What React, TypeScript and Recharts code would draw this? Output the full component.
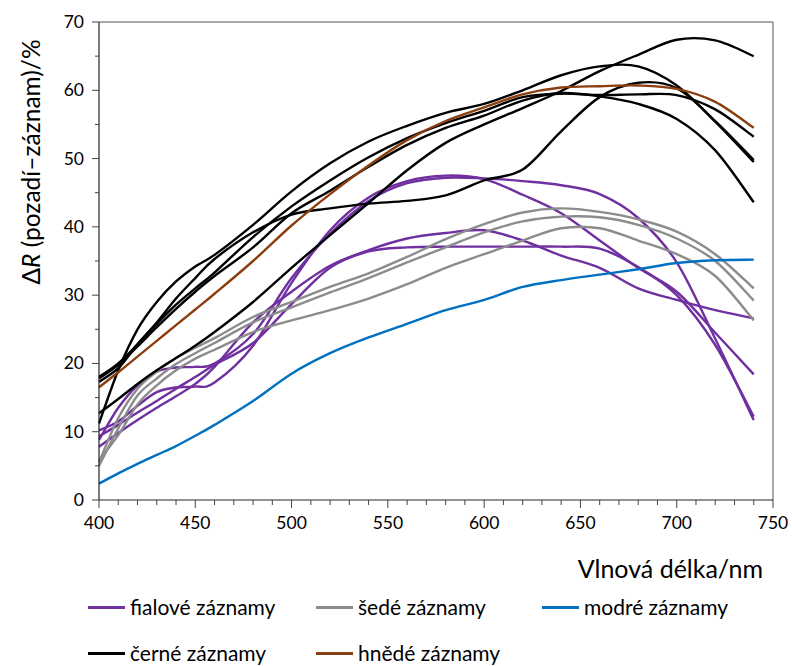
import { LineChart, Line, XAxis, YAxis, ReferenceLine } from "recharts";

const wavelengths = [400, 410, 420, 430, 440, 450, 460, 480, 500, 520, 540, 560, 580, 600, 620, 640, 660, 680, 700, 720, 740];

// fialové záznamy
const fialove1 = [10.2, 11.5, 13.8, 15.8, 16.5, 16.6, 17.2, 22.6, 31.8, 39.5, 44.3, 46.7, 47.5, 47, 44.7, 42, 38, 34, 30.5, 24.5, 18.4];
const fialove2 = [8.8, 13.5, 16.8, 18.8, 19.4, 19.5, 20, 24.3, 32.5, 39, 43.8, 46.4, 47.2, 47.1, 46.7, 46.1, 44.8, 41.3, 34.8, 23.6, 11.7];
const fialove3 = [7.8, 9.8, 11.7, 13.5, 15.2, 17, 19.5, 26, 30.5, 34.3, 36.6, 38.3, 39.1, 39.5, 38, 35.8, 34, 31, 29.3, 27.8, 26.6];
const fialove4 = [9.3, 11, 12.8, 14.5, 16.3, 18, 19.8, 23, 28.7, 34, 36.4, 37, 37.1, 37.1, 37.1, 37.1, 36.8, 34.1, 30, 22.7, 12.2];

// šedé záznamy
const sede1 = [5.5, 12, 16.3, 18.8, 20.8, 22.3, 23.7, 26.8, 29, 31.2, 33.2, 35.6, 38.2, 40.4, 42.1, 42.7, 42.2, 41.1, 39.3, 36, 31];
const sede2 = [5, 10.5, 15.3, 17.8, 19.9, 21.5, 23, 26, 28.2, 30.4, 32.5, 34.8, 37, 39.2, 40.8, 41.5, 41.4, 40.3, 38.3, 35, 29.2];
const sede3 = [5.8, 9.5, 14, 16.8, 19, 20.7, 22, 24.6, 26.3, 27.8, 29.5, 31.6, 34, 36, 38, 39.8, 39.8, 38, 36, 32.8, 26.3];

// modré záznamy
const modre1 = [2.4, 3.9, 5.3, 6.6, 7.9, 9.4, 11, 14.5, 18.5, 21.5, 23.8, 25.8, 27.8, 29.3, 31.2, 32.2, 33, 33.8, 34.7, 35.1, 35.2];

// černé záznamy
const cerne1 = [11.2, 19, 25, 29, 32, 34.2, 35.9, 40.3, 45.2, 49.3, 52.5, 54.8, 56.7, 58, 60, 62.2, 63.5, 63.5, 60.7, 55.4, 49.5];
const cerne2 = [18, 20, 22.8, 25.8, 28.6, 31, 33.3, 38.5, 43, 46.8, 50.2, 53, 55.2, 57, 59, 59.5, 59.3, 59.4, 59.3, 57.2, 53.2];
const cerne3 = [17.3, 19.3, 22.8, 26, 29.5, 32.5, 35.3, 39.2, 41.8, 42.7, 43.4, 43.8, 44.6, 46.8, 48.4, 54, 59, 61.1, 60.3, 55.5, 49.8];
const cerne4 = [12.7, 14.8, 17, 19, 20.8, 22.6, 24.6, 29, 34, 38.8, 43.5, 48.3, 52.3, 55, 57.4, 59.9, 62.8, 65.2, 67.4, 67.3, 65];
const cerne5 = [17.8, 19.8, 22.5, 25.3, 28, 30.5, 32.8, 37, 42, 45.3, 48.8, 52, 54.5, 56.3, 58.5, 59.6, 59.1, 58, 55.8, 51.2, 43.6];

// hnědé záznamy
const hnede1 = [16.5, 18.7, 21, 23.3, 25.6, 27.9, 30.2, 35, 40.2, 44.8, 49, 52.7, 55.5, 57.5, 59.4, 60.4, 60.6, 60.7, 60.2, 58.3, 54.5];

const PURPLE = "#7030a0";
const GRAY = "#8c8c8c";
const BLUE = "#0070c0";
const BLACK = "#000000";
const BROWN = "#8b3f10";

const series = [
  { key: "fialove1", values: fialove1, color: PURPLE },
  { key: "fialove2", values: fialove2, color: PURPLE },
  { key: "fialove3", values: fialove3, color: PURPLE },
  { key: "fialove4", values: fialove4, color: PURPLE },
  { key: "sede1", values: sede1, color: GRAY },
  { key: "sede2", values: sede2, color: GRAY },
  { key: "sede3", values: sede3, color: GRAY },
  { key: "modre1", values: modre1, color: BLUE },
  { key: "cerne1", values: cerne1, color: BLACK },
  { key: "cerne2", values: cerne2, color: BLACK },
  { key: "cerne3", values: cerne3, color: BLACK },
  { key: "cerne4", values: cerne4, color: BLACK },
  { key: "cerne5", values: cerne5, color: BLACK },
  { key: "hnede1", values: hnede1, color: BROWN },
];

const legendItems = [
  { label: "fialové záznamy", color: PURPLE },
  { label: "šedé záznamy", color: GRAY },
  { label: "modré záznamy", color: BLUE },
  { label: "černé záznamy", color: BLACK },
  { label: "hnědé záznamy", color: BROWN },
];

const xTicks = Array.from({ length: 36 }, (_, i) => 400 + i * 10);
const yTicks = Array.from({ length: 15 }, (_, i) => i * 5);

const data = wavelengths.map((wl, i) => {
  const row: Record<string, number> = { wl };
  series.forEach((s) => {
    row[s.key] = s.values[i];
  });
  return row;
});

const FONT = "Lato, 'Liberation Sans', sans-serif";

// smoothed line like a spreadsheet "smoothed line" (Catmull-Rom -> bezier)
const smoothCurve = (context: any) => {
  let xs: number[] = [];
  let ys: number[] = [];
  return {
    areaStart() {},
    areaEnd() {},
    lineStart() {
      xs = [];
      ys = [];
    },
    point(x: number, y: number) {
      xs.push(+x);
      ys.push(+y);
    },
    lineEnd() {
      const n = xs.length;
      if (!n) return;
      context.moveTo(xs[0], ys[0]);
      for (let i = 0; i < n - 1; i++) {
        const a = Math.max(i - 1, 0);
        const d = Math.min(i + 2, n - 1);
        context.bezierCurveTo(
          xs[i] + (xs[i + 1] - xs[a]) / 6,
          ys[i] + (ys[i + 1] - ys[a]) / 6,
          xs[i + 1] - (xs[d] - xs[i]) / 6,
          ys[i + 1] - (ys[d] - ys[i]) / 6,
          xs[i + 1],
          ys[i + 1]
        );
      }
    },
  };
};

function XTick(props: any) {
  const { x, y, payload } = props;
  const major = payload.value % 50 === 0;
  return (
    <g>
      <line x1={x} x2={x} y1={y} y2={y + (major ? 8 : 5)} stroke="#404040" strokeWidth={1} />
      {major && (
        <text x={x} y={y + 29} textAnchor="middle" fontSize={17.5} fontFamily={FONT} fill="#000">
          {payload.value}
        </text>
      )}
    </g>
  );
}

function YTick(props: any) {
  const { x, y, payload } = props;
  const major = payload.value % 10 === 0;
  return (
    <g>
      <line x1={x - (major ? 7 : 4)} x2={x} y1={y} y2={y} stroke="#404040" strokeWidth={1} />
      {major && (
        <text x={x - 15} y={y + 6} textAnchor="end" fontSize={17.5} fontFamily={FONT} fill="#000">
          {payload.value}
        </text>
      )}
    </g>
  );
}

function XTitle(props: any) {
  const vb = props.viewBox;
  return (
    <text x={vb.x + vb.width - 10} y={578} textAnchor="end" fontSize={25} fontFamily={FONT} fill="#000">
      Vlnová délka/nm
    </text>
  );
}

function YTitle() {
  return (
    <text
      x={30}
      y={162}
      transform="rotate(-90 30 162)"
      textAnchor="middle"
      dominantBaseline="central"
      fontSize={24.5}
      fontFamily={FONT}
      fill="#000"
    >
      <tspan>Δ</tspan>
      <tspan fontStyle="italic">R</tspan>
      <tspan> (pozadí–záznam)/%</tspan>
    </text>
  );
}

function LegendBlock() {
  const pos = [
    { left: 88, top: 607 },
    { left: 316, top: 607 },
    { left: 542, top: 607 },
    { left: 88, top: 653 },
    { left: 316, top: 653 },
  ];
  return (
    <>
      {legendItems.map((item, i) => (
        <div
          key={item.label}
          style={{
            position: "absolute",
            left: pos[i].left,
            top: pos[i].top - 11,
            height: 22,
            lineHeight: "22px",
            display: "flex",
            alignItems: "center",
            fontFamily: FONT,
            fontSize: 21,
            color: "#000",
            whiteSpace: "nowrap",
          }}
        >
          <span style={{ display: "inline-block", width: 37, height: 3, background: item.color, marginRight: 5 }} />
          {item.label}
        </div>
      ))}
    </>
  );
}

export default function App() {
  return (
    <div style={{ position: "absolute", left: 0, top: 0, width: 792, height: 666, background: "#fff", overflow: "hidden" }}>
      <LineChart
        width={792}
        height={666}
        data={data}
        margin={{ top: 22, right: 19, bottom: 126, left: 0 }}
      >
        <XAxis
          dataKey="wl"
          type="number"
          domain={[400, 750]}
          ticks={xTicks}
          interval={0}
          tick={<XTick />}
          tickLine={false}
          tickSize={0}
          tickMargin={0}
          height={40}
          axisLine={{ stroke: "#262626", strokeWidth: 1.2 }}
          label={<XTitle />}
        />
        <YAxis
          type="number"
          domain={[0, 70]}
          ticks={yTicks}
          interval={0}
          tick={<YTick />}
          tickLine={false}
          tickSize={0}
          tickMargin={0}
          width={99}
          axisLine={{ stroke: "#262626", strokeWidth: 1.2 }}
          label={<YTitle />}
        />
        <ReferenceLine y={70} stroke="#8c8c8c" strokeWidth={1.5} />
        <ReferenceLine x={750} stroke="#8c8c8c" strokeWidth={1.5} />
        {series.map((s) => (
          <Line
            key={s.key}
            dataKey={s.key}
            type={smoothCurve as any}
            stroke={s.color}
            strokeWidth={2.4}
            dot={false}
            activeDot={false}
            isAnimationActive={false}
          />
        ))}
      </LineChart>
      <LegendBlock />
    </div>
  );
}
